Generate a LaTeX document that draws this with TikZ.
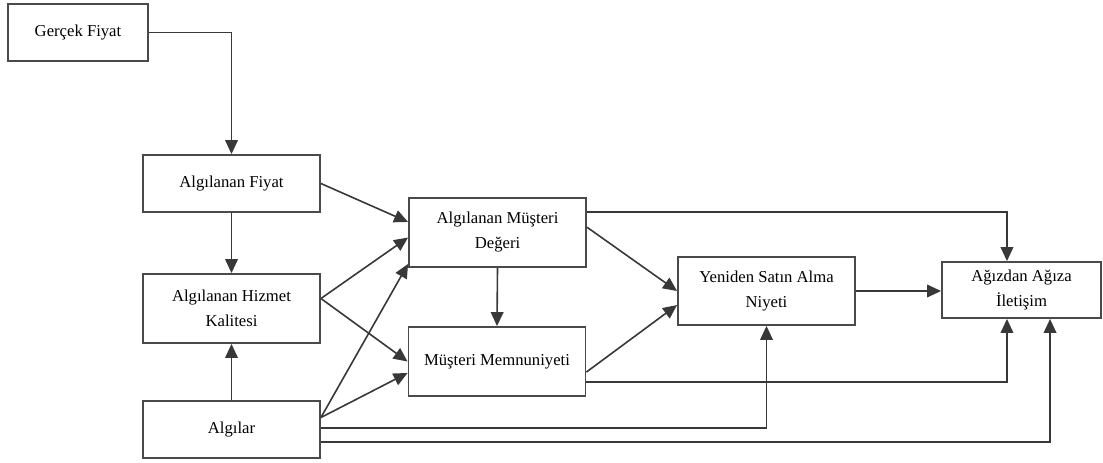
\documentclass[tikz,border=0pt]{standalone}
\usepackage{fontspec}
\setmainfont{Liberation Serif}
\usetikzlibrary{arrows.meta, positioning}
\definecolor{boxgray}{HTML}{4A4A4A}
\definecolor{linegray}{HTML}{383838}

\begin{document}
\begin{tikzpicture}[
    x=0.75pt, y=-0.75pt,
    box/.style={rectangle, draw=boxgray, line width=1.4pt, minimum width=177*0.75pt, minimum height=57*0.75pt, align=center, font=\fontsize{12.5}{18.75}\selectfont, inner sep=2pt},
    arrow/.style={-{Triangle[length=10.5pt, width=9.5pt]}, line width=1.2pt, draw=linegray}
]
\useasboundingbox (0,0) rectangle (1103,462);

\node[box, minimum width=140*0.75pt] (gercek) at (78,32.5) {Gerçek Fiyat};
\node[box] (afiyat) at (231.5,183.5) {Algılanan Fiyat};
\node[box, minimum height=69*0.75pt] (hizmet) at (231.5,308.5) {Algılanan Hizmet\\Kalitesi};
\node[box] (algilar) at (231.5,429.5) {Algılar};
\node[box, minimum height=69*0.75pt] (deger) at (497.5,232.5) {Algılanan Müşteri\\Değeri};
\node[box, minimum height=69*0.75pt] (memnun) at (497,361.5) {Müşteri Memnuniyeti};
\node[box, minimum height=68*0.75pt] (niyet) at (766.5,291) {Yeniden Satın Alma\\Niyeti};
\node[box, minimum width=159*0.75pt, minimum height=56*0.75pt] (agiz) at (1021.5,290) {Ağızdan Ağıza\\İletişim};

\draw[arrow] (gercek.east) -| (afiyat.north);
\draw[arrow] (afiyat.south) -- (hizmet.north);
\draw[arrow] (algilar.north) -- (hizmet.south);

\draw[arrow] (afiyat.east) -- ([yshift=7.9pt]deger.west);
\draw[arrow] ([yshift=7.5pt]hizmet.east) -- ([yshift=-3.75pt]deger.west);
\draw[arrow] ([yshift=7.5pt]hizmet.east) -- (memnun.west);
\draw[arrow] ([yshift=9pt]algilar.east) -- ([yshift=3pt]deger.south west);
\draw[arrow] ([yshift=9pt]algilar.east) -- ([yshift=-8.6pt]memnun.west);
\draw[arrow] ([yshift=1pt]algilar.east) -| (niyet.south);
\draw[arrow] ([yshift=-9.4pt]algilar.east) -| ([xshift=21.4pt]agiz.south);

\draw[arrow] (deger.south) -- (memnun.north);
\draw[arrow] ([yshift=4pt]deger.east) -- (niyet.west);
\draw[arrow] ([yshift=15.4pt]deger.east) -| ([xshift=-10.9pt]agiz.north);
\draw[arrow] ([yshift=-7.9pt]memnun.east) -- ([yshift=-10.5pt]niyet.west);
\draw[arrow] ([yshift=-15.4pt]memnun.east) -| ([xshift=-10.9pt]agiz.south);

\draw[arrow] (niyet.east) -- (niyet.east -| agiz.west);
\end{tikzpicture}
\end{document}
